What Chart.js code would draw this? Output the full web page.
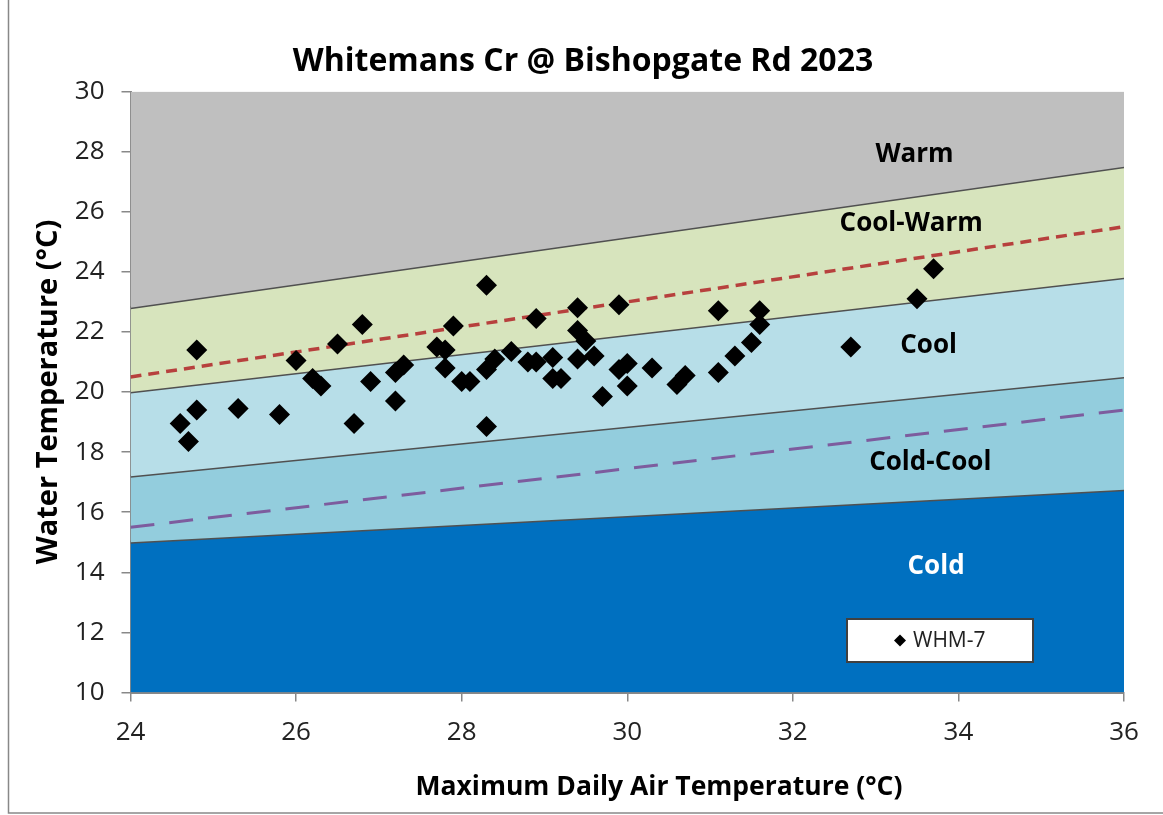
<!DOCTYPE html>
<html>
<head>
<meta charset="utf-8">
<script src="https://cdn.jsdelivr.net/npm/chart.js@4/dist/chart.umd.min.js"></script>
<style>
  html, body { margin: 0; padding: 0; background: #fff; }
  #wrap { width: 1163px; height: 815px; position: relative; }
</style>
</head>
<body>
<div id="wrap"><canvas id="myChart" width="1163" height="815"></canvas></div>
<script>
// x ends of the band lines
const xEnds = [24, 36];
// band boundaries (water temp at 24 and 36 deg air temp)
const coldTop = [15, 16.75];
const coldCoolTop = [17.2, 20.5];
const coolTop = [20, 23.8];
const coolWarmTop = [22.8, 27.5];
const warmTop = [30, 30];
// dashed guide lines
const redDashed = [20.5, 25.5];
const purpleDashed = [15.5, 19.4];

// WHM-7 observations
const airTemp = [
  24.6, 24.7, 24.8, 24.8, 25.3, 25.8, 26.0, 26.2, 26.3, 26.5,
  26.8, 26.9, 26.7, 27.2, 27.2, 27.3, 27.9, 27.7, 27.8, 27.8,
  28.0, 28.1, 28.3, 28.4, 28.6, 28.3, 28.3, 28.9, 28.8, 28.9,
  29.1, 29.1, 29.2, 29.4, 29.4, 29.5, 29.4, 29.6, 29.7, 29.9,
  29.9, 30.0, 30.0, 30.3, 30.6, 30.7, 31.1, 31.1, 31.3, 31.5,
  31.6, 31.6, 32.7, 33.5, 33.7
];
const waterTemp = [
  18.95, 18.35, 19.4, 21.4, 19.45, 19.25, 21.05, 20.45, 20.2, 21.6,
  22.25, 20.35, 18.95, 19.7, 20.65, 20.9, 22.2, 21.5, 21.4, 20.8,
  20.35, 20.35, 20.75, 21.1, 21.35, 23.55, 18.85, 22.45, 21.0, 21.0,
  21.15, 20.45, 20.45, 22.8, 22.05, 21.7, 21.1, 21.2, 19.85, 22.9,
  20.75, 20.95, 20.2, 20.8, 20.25, 20.55, 22.7, 20.65, 21.2, 21.65,
  22.7, 22.25, 21.5, 23.1, 24.1
];

// band names and where they sit (data coords)
const bandNames = ['Warm', 'Cool-Warm', 'Cool', 'Cold-Cool', 'Cold'];
const bandLabelX = [33.47, 33.43, 33.64, 33.66, 33.73];
const bandLabelY = [27.89, 25.62, 21.56, 17.64, 14.19];
const bandLabelColor = ['#000', '#000', '#000', '#000', '#fff'];

const FONT = "'Open Sans', 'Liberation Sans', sans-serif";

function toXY(ys) {
  return xEnds.map((x, i) => ({ x: x, y: ys[i] }));
}

function band(ys, bg, fill, order) {
  return {
    type: 'line',
    data: toXY(ys),
    borderColor: '#505050',
    borderWidth: 3,
    backgroundColor: bg,
    fill: fill,
    pointRadius: 0,
    order: order,
  };
}

const data = {
  datasets: [
    band(coldTop, '#0070C0', 'start', 10),
    band(coldCoolTop, '#93CDDD', '-1', 9),
    band(coolTop, '#B7DEE8', '-1', 8),
    band(coolWarmTop, '#D7E4BD', '-1', 7),
    Object.assign(band(warmTop, '#BFBFBF', '-1', 6), { borderWidth: 0 }),
    {
      type: 'line',
      data: toXY(redDashed),
      borderColor: '#B7403D',
      borderWidth: 3.5,
      borderDash: [11, 7],
      pointRadius: 0,
      fill: false,
      order: 3,
    },
    {
      type: 'line',
      data: toXY(purpleDashed),
      borderColor: '#7D5C9E',
      borderWidth: 3,
      borderDash: [24, 15],
      pointRadius: 0,
      fill: false,
      order: 3,
    },
    {
      type: 'scatter',
      label: 'WHM-7',
      data: airTemp.map((x, i) => ({ x: x, y: waterTemp[i] })),
      pointStyle: 'rectRot',
      pointRadius: 10.5,
      pointBackgroundColor: '#000',
      pointBorderWidth: 0,
      order: 0,
    },
  ],
};

// titles, band names + legend box
const extras = {
  id: 'extras',
  afterDatasetsDraw(chart) {
    const ctx = chart.ctx;
    const xs = chart.scales.x, ys = chart.scales.y;
    ctx.save();
    ctx.textAlign = 'center';
    ctx.textBaseline = 'middle';
    ctx.fillStyle = '#000';
    ctx.font = 'bold 32px ' + FONT;
    ctx.fillText('Whitemans Cr @ Bishopgate Rd 2023', 583, 62);
    ctx.font = 'bold 26.5px ' + FONT;
    ctx.fillText('Maximum Daily Air Temperature (°C)', 659, 787);

    ctx.font = 'bold 26px ' + FONT;
    bandNames.forEach((name, i) => {
      ctx.fillStyle = bandLabelColor[i];
      ctx.fillText(name, xs.getPixelForValue(bandLabelX[i]), ys.getPixelForValue(bandLabelY[i]));
    });

    // legend
    const bx = 847, by = 619, bw = 186, bh = 43;
    ctx.fillStyle = '#fff';
    ctx.fillRect(bx, by, bw, bh);
    ctx.strokeStyle = '#404040';
    ctx.lineWidth = 2;
    ctx.strokeRect(bx, by, bw, bh);
    const cx = 900, cy = by + bh / 2;
    ctx.fillStyle = '#000';
    ctx.beginPath();
    ctx.moveTo(cx, cy - 6); ctx.lineTo(cx + 6, cy); ctx.lineTo(cx, cy + 6); ctx.lineTo(cx - 6, cy);
    ctx.closePath();
    ctx.fill();
    ctx.fillStyle = '#222';
    ctx.font = '21px ' + FONT;
    ctx.textAlign = 'left';
    ctx.fillText('WHM-7', 913, cy + 1);

    // outer frame
    ctx.strokeStyle = '#888';
    ctx.lineWidth = 1.5;
    ctx.strokeRect(8.5, -2, 1200, 815);
    ctx.restore();
  },
};

new Chart(document.getElementById('myChart'), {
  data: data,
  plugins: [extras],
  options: {
    responsive: false,
    animation: false,
    layout: { padding: { left: 0, right: 39, top: 91.5, bottom: 0 } },
    plugins: {
      legend: { display: false },
      tooltip: { enabled: false },
      title: { display: false },
    },
    scales: {
      x: {
        type: 'linear',
        min: 24, max: 36,
        ticks: { stepSize: 2, color: '#222', font: { family: FONT, size: 26 }, padding: 15 },
        grid: { drawOnChartArea: false, tickLength: 9, color: '#888', lineWidth: 1.5 },
        border: { color: '#888', width: 2 },
        afterFit(scale) { scale.height = 122.5; },
      },
      y: {
        type: 'linear',
        min: 10, max: 30,
        ticks: { stepSize: 2, color: '#222', font: { family: FONT, size: 26 }, padding: 17 },
        grid: { drawOnChartArea: false, tickLength: 9, color: '#888', lineWidth: 1.5 },
        border: { color: '#888', width: 2 },
        title: {
          display: true,
          text: 'Water Temperature (°C)',
          color: '#000',
          font: { family: FONT, size: 29, weight: 'bold', lineHeight: 1.2 },
          padding: { top: 31, bottom: 0 },
        },
        afterFit(scale) { scale.width = 130.5; },
      },
    },
  },
});
</script>
</body>
</html>
